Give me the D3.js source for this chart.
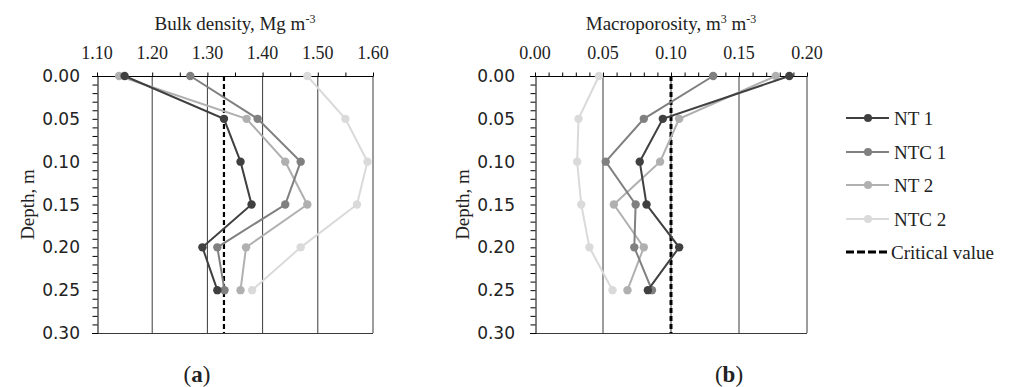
<!DOCTYPE html>
<meta charset="utf-8">
<title>Bulk density and macroporosity</title>
<style>
  body { margin: 0; background: #fff; }
  text { font-family: "Liberation Serif", serif; fill: #222; }
  .grid { stroke: #3a3a3a; stroke-width: 1; }
  .series { fill: none; stroke-width: 2; }
  .crit { stroke: #000; stroke-width: 2.2; stroke-dasharray: 5 3; }
</style>
<body>
<script src="https://cdnjs.cloudflare.com/ajax/libs/d3/7.8.5/d3.min.js"></script>
<script>

var width = 1019,
    height = 387;

// depth (m), same for all series
var depths = [0.00, 0.05, 0.10, 0.15, 0.20, 0.25];

var seriesNames = ["NT 1", "NTC 1", "NT 2", "NTC 2"];
var seriesColors = ["#404040", "#808080", "#b0b0b0", "#dadada"];

// bulk density, Mg m-3
var bulkNT1  = [1.150, 1.330, 1.360, 1.380, 1.291, 1.318];
var bulkNTC1 = [1.269, 1.391, 1.469, 1.441, 1.318, 1.331];
var bulkNT2  = [1.140, 1.371, 1.441, 1.481, 1.370, 1.360];
var bulkNTC2 = [1.481, 1.550, 1.590, 1.571, 1.469, 1.381];
var bulkCritical = 1.33;

// macroporosity, m3 m-3
var macroNT1  = [0.187, 0.094, 0.077, 0.082, 0.106, 0.083];
var macroNTC1 = [0.131, 0.080, 0.052, 0.074, 0.073, 0.086];
var macroNT2  = [0.177, 0.106, 0.092, 0.058, 0.080, 0.068];
var macroNTC2 = [0.047, 0.032, 0.031, 0.034, 0.040, 0.057];
var macroCritical = 0.10;

var bulkTicks = [1.10, 1.20, 1.30, 1.40, 1.50, 1.60];
var macroTicks = [0.00, 0.05, 0.10, 0.15, 0.20];
var depthTicks = [0.00, 0.05, 0.10, 0.15, 0.20, 0.25, 0.30];

var svg = d3.select("body").append("svg")
  .attr("width", width)
  .attr("height", height);

var plotTop = 76, plotBottom = 333;

function panel(opts) {
  var x = d3.scaleLinear().domain(opts.domain).range([opts.left, opts.right]);
  var y = d3.scaleLinear().domain([0, 0.30]).range([plotTop, plotBottom]);
  var g = svg.append("g");

  // vertical grid lines at major ticks
  g.selectAll(".grid").data(opts.ticks.slice(1)).enter().append("line")
    .attr("class", "grid")
    .attr("x1", function(d) { return x(d); }).attr("x2", function(d) { return x(d); })
    .attr("y1", plotTop).attr("y2", plotBottom);

  // bottom line
  g.append("line").attr("class", "grid")
    .attr("x1", opts.left - 5).attr("x2", opts.right)
    .attr("y1", plotBottom + 0.5).attr("y2", plotBottom + 0.5);

  // top axis
  var xAxis = d3.axisTop(x)
    .tickValues(d3.range(opts.domain[0], opts.domain[1] + 1e-9, opts.minor))
    .tickSize(4)
    .tickFormat("");
  var ax = g.append("g").attr("transform", "translate(0," + (plotTop + 0.5) + ")").call(xAxis);
  ax.select(".domain").attr("stroke", "#000").attr("d", "M" + (opts.left - 5) + ",0H" + opts.right);
  ax.selectAll(".tick line").attr("stroke", "#000");

  g.selectAll(".xlab").data(opts.ticks).enter().append("text")
    .attr("x", function(d) { return x(d); })
    .attr("y", 59)
    .attr("text-anchor", "middle")
    .style("font-size", "18px")
    .text(function(d) { return d.toFixed(2); });

  // left axis
  var yAxis = d3.axisLeft(y)
    .tickValues(d3.range(0, 0.3001, 0.01))
    .tickSize(5)
    .tickFormat("");
  var ay = g.append("g").attr("transform", "translate(" + (opts.left + 0.5) + ",0)").call(yAxis);
  ay.select(".domain").attr("stroke", "#000");
  ay.selectAll(".tick line").attr("stroke", "#000");

  g.selectAll(".ylab").data(depthTicks).enter().append("text")
    .attr("x", opts.left - opts.labelGap)
    .attr("y", function(d) { return y(d); })
    .attr("dy", "0.36em")
    .attr("text-anchor", "end")
    .style("font-family", "'DejaVu Sans', sans-serif")
    .style("font-size", "17px")
    .text(function(d) { return d.toFixed(2); });

  // axis titles
  var t = g.append("text")
    .attr("x", (opts.left + opts.right) / 2)
    .attr("y", 30)
    .attr("text-anchor", "middle")
    .style("font-size", "19px");
  opts.title(t);

  g.append("text")
    .attr("transform", "translate(" + opts.depthX + "," + ((plotTop + plotBottom) / 2) + ") rotate(-90)")
    .attr("text-anchor", "middle")
    .attr("dy", "0.35em")
    .style("font-size", "19px")
    .text("Depth, m");

  // critical value
  g.append("line").attr("class", "crit")
    .attr("x1", x(opts.critical)).attr("x2", x(opts.critical))
    .attr("y1", plotTop).attr("y2", plotBottom)
    .style("stroke-width", opts.critWidth);

  // series (lightest first so dark lines sit on top)
  var line = d3.line()
    .x(function(d) { return x(d[0]); })
    .y(function(d) { return y(d[1]); });

  for (var i = opts.series.length - 1; i >= 0; i--) {
    var pts = opts.series[i].map(function(v, j) { return [v, depths[j]]; });
    g.append("path").attr("class", "series")
      .attr("stroke", seriesColors[i])
      .attr("d", line(pts));
    g.selectAll(".pt" + i).data(pts).enter().append("circle")
      .attr("cx", function(d) { return x(d[0]); })
      .attr("cy", function(d) { return y(d[1]); })
      .attr("r", 4.2)
      .attr("fill", seriesColors[i]);
  }

  // panel label
  svg.append("text")
    .attr("x", opts.labelX)
    .attr("y", 382)
    .attr("text-anchor", "middle")
    .style("font-size", "23px")
    .html("(<tspan font-weight='bold'>" + opts.label + "</tspan>)");
}

panel({
  domain: [1.10, 1.60], ticks: bulkTicks, minor: 0.05,
  left: 97, right: 373, labelGap: 17, depthX: 27,
  series: [bulkNT1, bulkNTC1, bulkNT2, bulkNTC2],
  critical: bulkCritical, critWidth: 2.2,
  label: "a", labelX: 197,
  title: function(t) {
    t.append("tspan").text("Bulk density, Mg m");
    t.append("tspan").attr("dy", -7).style("font-size", "12px").text("-3");
  }
});

panel({
  domain: [0.00, 0.20], ticks: macroTicks, minor: 0.01,
  left: 535, right: 807, labelGap: 20, depthX: 462,
  series: [macroNT1, macroNTC1, macroNT2, macroNTC2],
  critical: macroCritical, critWidth: 3,
  label: "b", labelX: 729,
  title: function(t) {
    t.append("tspan").text("Macroporosity, m");
    t.append("tspan").attr("dy", -7).style("font-size", "12px").text("3");
    t.append("tspan").attr("dy", 7).text(" m");
    t.append("tspan").attr("dy", -7).style("font-size", "12px").text("-3");
  }
});

// legend
var legendY = [118, 152, 185, 219, 252];
var legend = svg.append("g");
seriesNames.forEach(function(name, i) {
  legend.append("line")
    .attr("x1", 846).attr("x2", 889)
    .attr("y1", legendY[i]).attr("y2", legendY[i])
    .attr("stroke", seriesColors[i]).attr("stroke-width", 2);
  legend.append("circle")
    .attr("cx", 868).attr("cy", legendY[i]).attr("r", 4)
    .attr("fill", seriesColors[i]);
  legend.append("text")
    .attr("x", 894).attr("y", legendY[i]).attr("dy", "0.35em")
    .style("font-size", "19px")
    .text(name);
});
legend.append("line").attr("class", "crit")
  .attr("x1", 846).attr("x2", 889)
  .attr("y1", legendY[4]).attr("y2", legendY[4])
  .style("stroke-width", 3)
  .style("stroke-dasharray", "8 3");
legend.append("text")
  .attr("x", 891).attr("y", legendY[4]).attr("dy", "0.35em")
  .style("font-size", "19px")
  .text("Critical value");

</script>
